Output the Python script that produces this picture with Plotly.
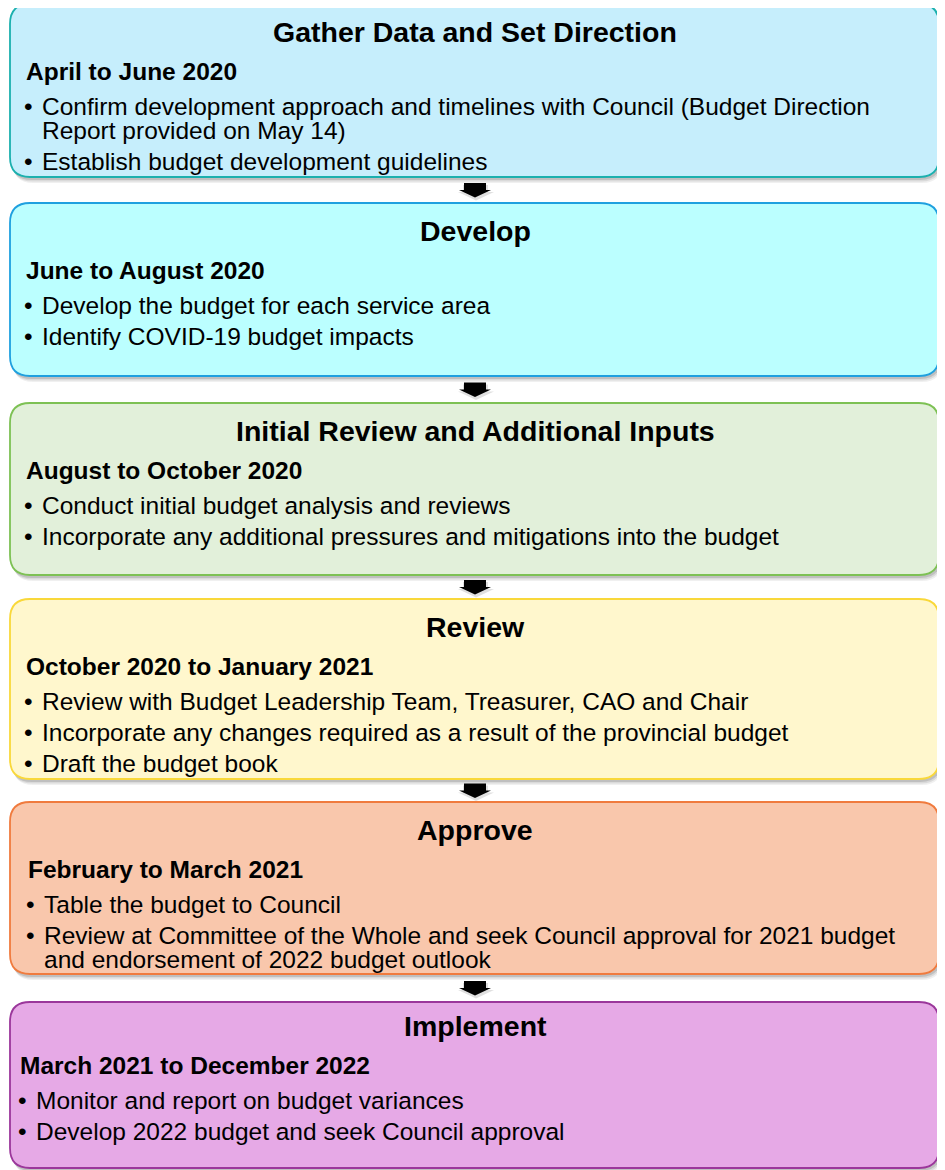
import plotly.graph_objects as go

# ---- data ----
titles = [
    "Gather Data and Set Direction",
    "Develop",
    "Initial Review and Additional Inputs",
    "Review",
    "Approve",
    "Implement",
]
periods = [
    "April to June 2020",
    "June to August 2020",
    "August to October 2020",
    "October 2020 to January 2021",
    "February to March 2021",
    "March 2021 to December 2022",
]
bullets = [
    [["Confirm development approach and timelines with Council (Budget Direction",
      "Report provided on May 14)"],
     ["Establish budget development guidelines"]],
    [["Develop the budget for each service area"],
     ["Identify COVID-19 budget impacts"]],
    [["Conduct initial budget analysis and reviews"],
     ["Incorporate any additional pressures and mitigations into the budget"]],
    [["Review with Budget Leadership Team, Treasurer, CAO and Chair"],
     ["Incorporate any changes required as a result of the provincial budget"],
     ["Draft the budget book"]],
    [["Table the budget to Council"],
     ["Review at Committee of the Whole and seek Council approval for 2021 budget",
      "and endorsement of 2022 budget outlook"]],
    [["Monitor and report on budget variances"],
     ["Develop 2022 budget and seek Council approval"]],
]

# ---- styles / layout ----
fills = ["#C6EEFC", "#BBFFFF", "#E2F0DA", "#FFF7CD", "#F9C7AC", "#E6A9E6"]
borders = ["#1BB0AE", "#1FA0DF", "#7DC154", "#F9D83A", "#F07B3E", "#9B379B"]
box_top = [4, 203, 403, 599, 802, 1002]
box_bot = [177, 376, 575, 779, 974, 1168]
y_shift = [0, 0, 0, 0, 0, -4]
x_shift = [0, 0, 0, 0, 2, -6]
X0, X1, R = 10, 939, 20
PAGE_OFF = 8  # default page body margin
FONT = "Liberation Sans, Arial, sans-serif"
TITLE_SIZE = 28.5
BODY_SIZE = 24.5


def rrect(x0, y0, x1, y1, r):
    return (f"M {x0+r},{y0} L {x1-r},{y0} Q {x1},{y0} {x1},{y0+r} "
            f"L {x1},{y1-r} Q {x1},{y1} {x1-r},{y1} L {x0+r},{y1} "
            f"Q {x0},{y1} {x0},{y1-r} L {x0},{y0+r} Q {x0},{y0} {x0+r},{y0} Z")


shapes = []
annotations = []


def label(x, y, text, size, anchor="left"):
    annotations.append(dict(x=x, y=y, text=text, showarrow=False, xanchor=anchor,
                            yanchor="middle", borderpad=0,
                            font=dict(family=FONT, size=size, color="black")))


for i in range(len(titles)):
    t, b = box_top[i], box_bot[i]
    # soft shadow
    for k, a in [(6, 0.06), (4.5, 0.09), (3, 0.12)]:
        shapes.append(dict(type="path", path=rrect(X0 + k * 0.5, t + k, X1 + k * 0.5, b + k, R),
                           fillcolor=f"rgba(0,0,0,{a})", line=dict(width=0), layer="below"))
    shapes.append(dict(type="path", path=rrect(X0, t, X1, b, R),
                       fillcolor=fills[i], line=dict(color=borders[i], width=1.8), layer="below"))

    ys = y_shift[i]
    xs = x_shift[i]
    label(475, t + 28 + ys, f"<b>{titles[i]}</b>", TITLE_SIZE, "center")
    label(25 + xs, t + 67 + ys, f"<b>{periods[i]}</b>", BODY_SIZE)
    y = t + 102 + ys
    for bl in bullets[i]:
        label(23 + xs, y, "•", BODY_SIZE)
        for j, line in enumerate(bl):
            label(41 + xs, y, line, BODY_SIZE)
            if j < len(bl) - 1:
                y += 24.5
        y += 31

# arrows between boxes
for i in range(len(titles) - 1):
    g0, g1 = box_bot[i], box_top[i + 1]
    c = (g0 + g1) / 2
    yt, ym, yb = c - 7, c, c + 7.5
    p = (f"M 464,{yt} L 486,{yt} L 486,{ym} L 491,{ym} L 475,{yb} "
         f"L 459,{ym} L 464,{ym} Z")
    shapes.append(dict(type="path", path=(f"M 463,{yt+2} L 488,{yt+2} L 488,{ym+2} L 494,{ym+2} "
                                          f"L 476,{yb+3} L 458,{ym+2} L 463,{ym+2} Z"),
                       fillcolor="rgba(0,0,0,0.12)", line=dict(width=0)))
    shapes.append(dict(type="path", path=p, fillcolor="black", line=dict(width=0)))

fig = go.Figure()
fig.update_layout(
    width=945, height=1170,
    margin=dict(l=0, r=0, t=0, b=0),
    paper_bgcolor="white", plot_bgcolor="white",
    xaxis=dict(range=[PAGE_OFF, 945 + PAGE_OFF], visible=False, fixedrange=True),
    yaxis=dict(range=[1170 + PAGE_OFF, PAGE_OFF], visible=False, fixedrange=True),
    shapes=shapes, annotations=annotations, showlegend=False,
)
fig.write_html("out.html", config={"displayModeBar": False})
